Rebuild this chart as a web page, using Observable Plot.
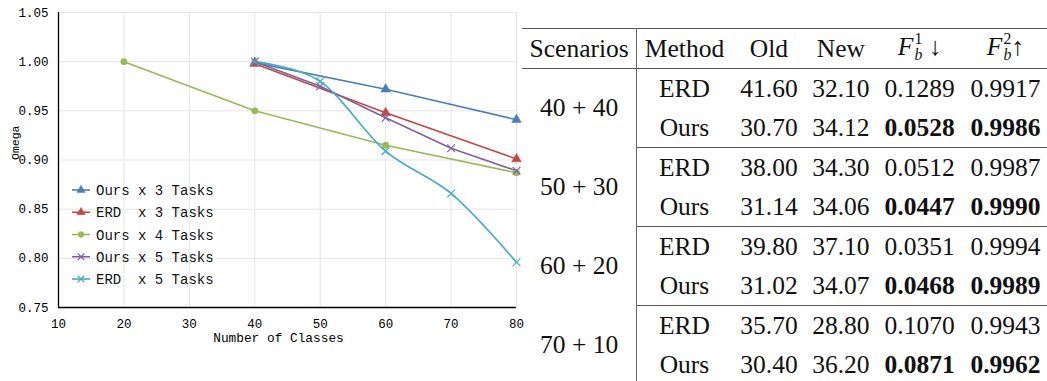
<!DOCTYPE html>
<html>
<head>
<meta charset="utf-8">
<script src="https://cdn.jsdelivr.net/npm/d3@7"></script>
<script src="https://cdn.jsdelivr.net/npm/@observablehq/plot@0.6"></script>
<style>
  html, body { margin: 0; padding: 0; background: #fff; width: 1047px; height: 381px; overflow: hidden; }
  #chart { position: absolute; left: 0; top: 0; }
  #chart svg { overflow: visible; }
  #legend { position: absolute; left: 0; top: 0; pointer-events: none; }
  #tbl { position: absolute; left: 522px; top: 28px; }
  table { border-collapse: collapse; font-family: "Liberation Serif", "Times New Roman", serif; font-size: 25.5px; color: #111; table-layout: fixed; }
  td, th { padding: 0; text-align: center; vertical-align: middle; font-weight: normal; white-space: nowrap; }
  tr { height: 39.5px; }
  thead tr { height: 40px; }
  thead tr th { border-top: 1.4px solid #555; border-bottom: 1.4px solid #555; }
  tbody.grp tr:last-child td { border-bottom: 1.4px solid #555; }
  .vl { border-right: 1.4px solid #666; }
  b { font-weight: bold; }
  .F { font-style: italic; }
  .ss { display: inline-flex; flex-direction: column; vertical-align: middle; font-size: 0.62em; line-height: 1; margin-left: 1px; position: relative; top: -2px; text-align: left; }
  .ss i { font-style: italic; }
</style>
</head>
<body>
<div id="chart"></div>
<svg id="legend" width="520" height="381"></svg>
<div id="tbl"></div>
<script>
// ---------- chart data ----------
const xTicks = [10, 20, 30, 40, 50, 60, 70, 80];
const yTicks = [0.75, 0.80, 0.85, 0.90, 0.95, 1.00, 1.05];

const seriesNames = ["Ours x 3 Tasks", "ERD  x 3 Tasks", "Ours x 4 Tasks", "Ours x 5 Tasks", "ERD  x 5 Tasks"];
const seriesColors = ["#4a7ebb", "#be4b48", "#98b954", "#7d60a0", "#46aac5"];
const seriesSymbols = ["triangle", "triangle", "circle", "times", "times"];
const seriesCurves = ["linear", "linear", "linear", "linear", "cardinal"];

const ours3X = [40, 60, 80];
const ours3Y = [0.999, 0.972, 0.941];
const erd3X = [40, 60, 80];
const erd3Y = [0.998, 0.948, 0.901];
const ours4X = [20, 40, 60, 80];
const ours4Y = [1.000, 0.950, 0.915, 0.887];
const ours5X = [40, 50, 60, 70, 80];
const ours5Y = [1.000, 0.975, 0.943, 0.912, 0.889];
const erd5X = [40, 50, 60, 70, 80];
const erd5Y = [1.000, 0.980, 0.909, 0.866, 0.796];

const xLabel = "Number of Classes";
const yLabel = "Omega";

// ---------- table data ----------
const scenarios = ["40 + 40", "50 + 30", "60 + 20", "70 + 10"];
const methods = ["ERD", "Ours"];
const oldVals = [["41.60", "30.70"], ["38.00", "31.14"], ["39.80", "31.02"], ["35.70", "30.40"]];
const newVals = [["32.10", "34.12"], ["34.30", "34.06"], ["37.10", "34.07"], ["28.80", "36.20"]];
const f1Vals = [["0.1289", "0.0528"], ["0.0512", "0.0447"], ["0.0351", "0.0468"], ["0.1070", "0.0871"]];
const f2Vals = [["0.9917", "0.9986"], ["0.9987", "0.9990"], ["0.9994", "0.9989"], ["0.9943", "0.9962"]];
const boldRow = [false, true];

// ---------- build chart ----------
const xs = [ours3X, erd3X, ours4X, ours5X, erd5X];
const ys = [ours3Y, erd3Y, ours4Y, ours5Y, erd5Y];
const rows = [];
xs.forEach((arr, s) => arr.forEach((x, i) => rows.push({s, x, y: ys[s][i]})));

const lineMarks = [];
const dotMarks = [];
seriesNames.forEach((name, s) => {
  const d = rows.filter(r => r.s === s);
  lineMarks.push(Plot.line(d, {x: "x", y: "y", stroke: seriesColors[s], strokeWidth: 1.6, curve: seriesCurves[s]}));
  const sym = seriesSymbols[s];
  dotMarks.push(Plot.dot(d, {
    x: "x", y: "y", symbol: sym,
    r: sym === "circle" ? 3.2 : 3.6,
    fill: sym === "times" ? "none" : seriesColors[s],
    stroke: seriesColors[s], strokeWidth: sym === "times" ? 1.2 : 0.5
  }));
});

const chart = Plot.plot({
  width: 520,
  height: 381,
  marginLeft: 58,
  marginRight: 4,
  marginTop: 12,
  marginBottom: 74,
  x: {domain: [10, 80]},
  y: {domain: [0.75, 1.05]},
  style: {fontFamily: "'Liberation Mono', monospace", fontSize: "12px", color: "#000", background: "transparent", overflow: "visible"},
  marks: [
    Plot.gridX(xTicks, {stroke: "#e4e4e4", strokeOpacity: 1}),
    Plot.gridY(yTicks, {stroke: "#e4e4e4", strokeOpacity: 1}),
    Plot.axisX(xTicks, {tickSize: 0, tickPadding: 12, label: null, tickFormat: d => String(d), fontSize: 12.5}),
    Plot.axisY(yTicks, {tickSize: 0, tickPadding: 10, label: null, tickFormat: d => d.toFixed(2), fontSize: 12.5}),
    Plot.ruleX([10], {stroke: "#000", strokeWidth: 1.3}),
    Plot.ruleY([0.75], {stroke: "#000", strokeWidth: 1.3}),
    ...lineMarks,
    ...dotMarks,
    Plot.text([xLabel], {frameAnchor: "bottom", dy: 34, dx: -9, fontSize: 12.8, text: d => d}),
    Plot.text([yLabel], {frameAnchor: "left", dx: -43, rotate: -90, fontSize: 11.5, text: d => d})
  ]
});
document.getElementById("chart").appendChild(chart);

// ---------- legend (inside plot area) ----------
const leg = d3.select("#legend");
const symMap = {triangle: d3.symbolTriangle, circle: d3.symbolCircle, times: d3.symbolTimes};
seriesNames.forEach((name, s) => {
  const cy = 190 + s * 22.25;
  const g = leg.append("g").attr("transform", `translate(0,${cy})`);
  g.append("line").attr("x1", 72).attr("x2", 90).attr("y1", 0).attr("y2", 0)
    .attr("stroke", seriesColors[s]).attr("stroke-width", 1.6);
  const sym = seriesSymbols[s];
  g.append("path")
    .attr("d", d3.symbol(symMap[sym], sym === "circle" ? 26 : 30)())
    .attr("transform", "translate(81,0)")
    .attr("fill", sym === "times" ? "none" : seriesColors[s])
    .attr("stroke", seriesColors[s]).attr("stroke-width", sym === "times" ? 1.2 : 0.5);
  g.append("text").attr("x", 96).attr("y", 0).attr("dy", "0.36em")
    .attr("font-family", "'Liberation Mono', monospace").attr("font-size", 14)
    .attr("fill", "#111").style("white-space", "pre").attr("xml:space", "preserve")
    .text(name);
});

// ---------- table ----------
const colW = [116, 96, 76, 70, 90, 84];
let html = "<table><colgroup>" + colW.map(w => `<col style="width:${w}px">`).join("") + "</colgroup>";
html += `<thead><tr><th class="vl">Scenarios</th><th>Method</th><th>Old</th><th>New</th>` +
  `<th><span class="F">F</span><span class="ss"><span>1</span><i>b</i></span> ↓</th>` +
  `<th><span class="F">F</span><span class="ss"><span>2</span><i>b</i></span>↑</th></tr></thead>`;
scenarios.forEach((sc, g) => {
  html += `<tbody class="grp">`;
  methods.forEach((m, i) => {
    html += "<tr>";
    if (i === 0) html += `<td rowspan="2" class="vl">${sc}</td>`;
    const f1 = boldRow[i] ? `<b>${f1Vals[g][i]}</b>` : f1Vals[g][i];
    const f2 = boldRow[i] ? `<b>${f2Vals[g][i]}</b>` : f2Vals[g][i];
    html += `<td>${m}</td><td>${oldVals[g][i]}</td><td>${newVals[g][i]}</td><td>${f1}</td><td>${f2}</td></tr>`;
  });
  html += `</tbody>`;
});
html += "</table>";
document.getElementById("tbl").innerHTML = html;
</script>
</body>
</html>
